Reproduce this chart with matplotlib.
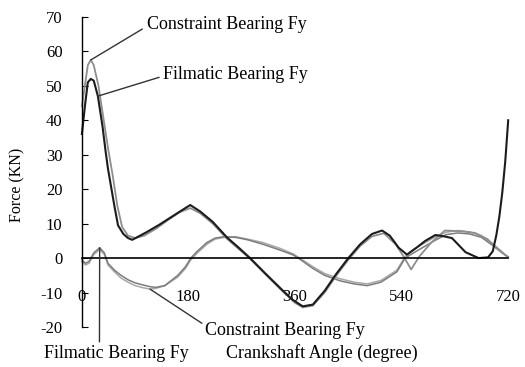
import matplotlib
matplotlib.use("Agg")
import matplotlib.pyplot as plt
import numpy as np

plt.rcParams['font.family'] = ['Liberation Serif', 'DejaVu Serif']
plt.rcParams['axes.unicode_minus'] = False

# Fy over one engine cycle, upper pair (main load)
ang_film_up = [0, 5, 10, 15, 20, 27, 35, 40, 44, 50, 55, 61, 70, 78, 85, 95, 110, 130, 150, 170,
               183, 200, 221, 245, 265, 284, 310, 335, 355, 373, 390, 410, 430, 450, 470, 490,
               507, 520, 535, 549, 565, 580, 597, 612, 625, 648, 670, 686, 694, 700, 705, 710,
               715, 720]
fy_film_up = [36, 44, 51, 52, 51.5, 47, 38, 31, 26, 20, 15, 9.5, 7, 5.8, 5.3, 6.2, 7.6, 9.6, 11.8,
              14, 15.4, 13.5, 10.5, 6, 3, 0, -4.5, -8.7, -12, -14, -13.5, -9.5, -4.5, 0, 4, 7,
              8, 6.5, 3, 1, 3, 5, 6.7, 6.3, 5.8, 1.7, 0, 0.2, 2, 6.7, 12, 19, 28, 40]

ang_con_up = [0, 5, 10, 15, 20, 28, 36, 44, 52, 60, 68, 78, 90, 105, 125, 145, 165, 183, 200,
              221, 245, 284, 335, 360, 373, 390, 410, 430, 450, 470, 490, 510, 530, 545, 556,
              570, 590, 613, 640, 664, 685, 700, 710, 720]
fy_con_up = [44, 50, 56, 57.5, 56, 50, 41, 32, 24, 15, 9, 6.5, 5.8, 6.5, 8.5, 11, 13.3, 14.5,
             13, 10, 5.6, -0.2, -9, -13, -14.3, -13.8, -10, -5, -0.5, 3.5, 6.3, 7.2, 4, 0,
             -3.3, 0.5, 4.5, 8, 7.8, 7.3, 5.5, 3, 1.5, 0.3]

# lower pair
ang_lo = [0, 6, 12, 20, 30, 38, 44, 55, 66, 78, 90, 103, 115, 125, 140, 162, 175, 184, 195,
          211, 225, 240, 260, 280, 306, 335, 357, 368, 390, 410, 436, 460, 482, 505, 532, 546,
          560, 575, 595, 615, 635, 655, 675, 695, 710, 720]
fy_film_lo = [-0.5, -1.5, -1, 1.5, 3, 1.5, -1.5, -3.5, -5, -6.3, -7.2, -7.8, -8.3, -8.5, -8, -5,
              -2.5, 0, 2, 4.5, 5.8, 6.2, 6, 5.3, 4, 2.3, 0.9, -0.3, -3, -5, -6.6, -7.5, -8, -7,
              -4, 0, 1.5, 3, 5, 6.8, 7.3, 7, 6, 3.5, 1.5, 0.3]
fy_con_lo = [-1, -2, -1.5, 1, 2.5, 1, -2, -4, -5.8, -7, -8, -8.6, -9, -8.8, -8, -5.5, -3, -0.5,
             1.5, 4, 5.5, 6, 6.2, 5.5, 4.5, 2.8, 1.2, 0, -2.5, -4.5, -6, -7, -7.5, -6.5, -3.5,
             0.5, 2.5, 4, 6, 7.5, 8, 7.6, 6.5, 4, 1.8, 0.2]

x_ticks = [0, 180, 360, 540, 720]
y_ticks = [-20, -10, 0, 10, 20, 30, 40, 50, 60, 70]

fig = plt.figure(figsize=(5.25, 3.67), dpi=100)
ax = fig.add_axes([0.156, 0.109, 0.812, 0.845])

ax.plot(ang_lo, fy_con_lo, color='#a8a8a8', lw=1.1, clip_on=False)
ax.plot(ang_lo, fy_film_lo, color='#7c7c7c', lw=1.1, clip_on=False)
ax.plot(ang_con_up, fy_con_up, color='#8e8e8e', lw=1.3, clip_on=False)
ax.plot(ang_film_up, fy_film_up, color='#1c1c1c', lw=1.5, clip_on=False)

# axes cross at the origin, no box
ax.set_xlim(0, 720)
ax.set_ylim(-20, 70)
ax.spines['top'].set_visible(False)
ax.spines['right'].set_visible(False)
ax.spines['left'].set_position(('data', 0))
ax.spines['bottom'].set_position(('data', 0))
ax.spines['left'].set_linewidth(1.0)
ax.spines['bottom'].set_linewidth(1.2)
ax.set_xticks(x_ticks)
ax.set_yticks(y_ticks)
ax.tick_params(axis='x', length=0, pad=22, labelsize=12)
ax.tick_params(axis='y', direction='in', length=4, pad=14, labelsize=12)

line_kw = dict(arrowstyle='-', color='#333333', lw=1.0, shrinkA=0, shrinkB=0)

i = int(np.argmax(fy_con_up))
ax.annotate('Constraint Bearing Fy', xy=(ang_con_up[i], fy_con_up[i]), xytext=(245, 67.7),
            ha='center', va='center', fontsize=13, annotation_clip=False,
            arrowprops=dict(line_kw, relpos=(-0.03, 0.25)))
ax.annotate('Filmatic Bearing Fy', xy=(27, np.interp(27, ang_film_up, fy_film_up)),
            xytext=(260, 53.2), ha='center', va='center', fontsize=13, annotation_clip=False,
            arrowprops=dict(line_kw, relpos=(-0.03, 0.35)))
ax.annotate('Constraint Bearing Fy', xy=(115, np.interp(115, ang_lo, fy_con_lo)),
            xytext=(343, -20.9), ha='center', va='center', fontsize=13, annotation_clip=False,
            arrowprops=dict(line_kw, relpos=(-0.02, 0.9)))
j = int(np.argmax(fy_film_lo[:10]))
ax.annotate('Filmatic Bearing Fy', xy=(ang_lo[j], fy_film_lo[j]), xytext=(59, -27.6),
            ha='center', va='center', fontsize=13, annotation_clip=False,
            arrowprops=dict(line_kw, relpos=(0.38, 1.0)))

fig.text(0.613, 0.038, 'Crankshaft Angle (degree)', ha='center', va='center', fontsize=13)
fig.text(0.034, 0.496, 'Force (KN)', ha='center', va='center', rotation=90, fontsize=11.5)

fig.savefig('out.png', dpi=100)
